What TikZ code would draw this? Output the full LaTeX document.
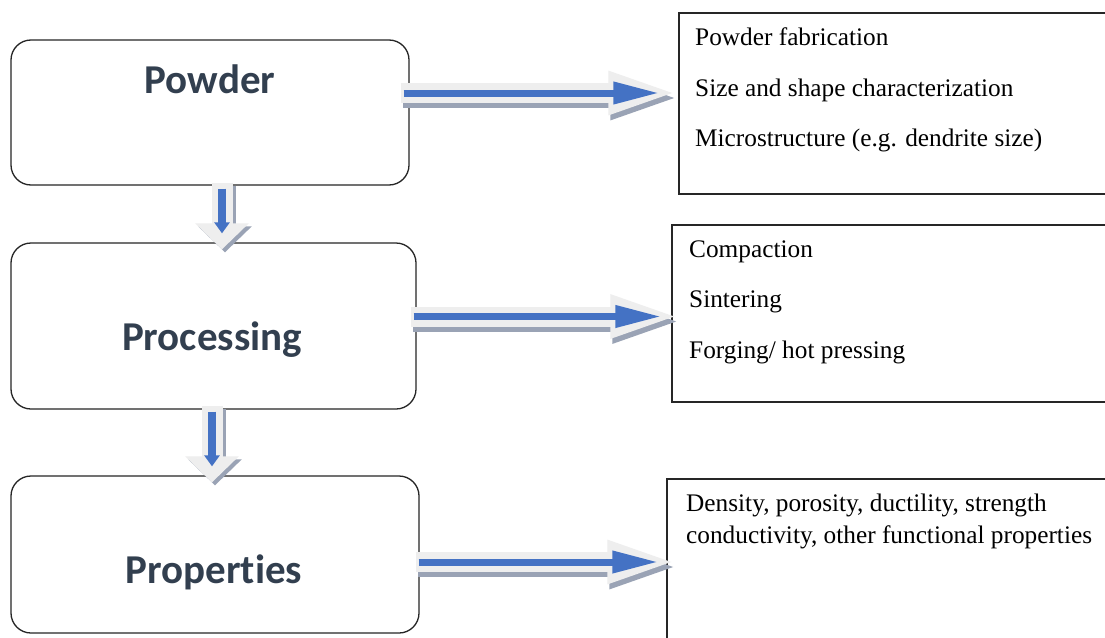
\documentclass[tikz,border=0pt]{standalone}
\usepackage{fontspec}
\setmainfont{Liberation Serif}
\newfontfamily\calfont[Ligatures={NoCommon,NoContextual}]{Carlito}
\usetikzlibrary{arrows.meta,calc}
\definecolor{lbl}{HTML}{323F4F}
\definecolor{arrblue}{HTML}{4472C4}
\definecolor{arrlight}{HTML}{EEEEEE}
\definecolor{arrshad}{HTML}{9AA3B5}
\begin{document}
\begin{tikzpicture}[x=1pt,y=-1pt,
  stage/.style={draw=black!85, line width=1.3pt, rounded corners=20pt, inner sep=0pt},
  info/.style={draw=black!85, line width=1.4pt, inner sep=0pt},
  stagelabel/.style={text=lbl, font=\calfont\bfseries\fontsize{41}{48}\selectfont, inner sep=0pt},
  infotext/.style={text=black, font=\fontsize{25.3}{32}\selectfont, inner sep=0pt, align=left},
  outerH/.style={draw=arrlight, line width=20pt, -{Triangle[length=72pt,width=38pt]}},
  shadH/.style={draw=arrshad, line width=20pt, -{Triangle[length=72pt,width=38pt]}},
  blueH/.style={draw=arrblue, line width=7pt, -{Triangle[length=46pt,width=21pt]}, shorten >=21pt, shorten <=3pt},
  outerV/.style={draw=arrlight, line width=21pt, -{Triangle[length=26pt,width=52pt]}},
  shadV/.style={draw=arrshad, line width=21pt, -{Triangle[length=26pt,width=52pt]}},
  blueV/.style={draw=arrblue, line width=8pt, -{Triangle[length=11pt,width=15pt]}, shorten >=16pt, shorten <=6pt}
]
\clip (0,0) rectangle (1105,637);
\fill[white] (0,0) rectangle (1105,637);

% left stage boxes
\node[stage, minimum width=398pt, minimum height=145pt] (powder) at (210,112.5) {};
\node[stage, minimum width=405pt, minimum height=166pt] (processing) at (213.5,326) {};
\node[stage, minimum width=408pt, minimum height=157pt] (properties) at (215,554.5) {};

\node[stagelabel, anchor=base] (tpowder) at (210,93) {Powder};
\node[stagelabel, anchor=base] (tprocessing) at (212,350) {Processing};
\node[stagelabel, anchor=base] (tproperties) at (214,583) {Properties};

% right info boxes
\node[info, minimum width=436pt, minimum height=181pt] (pfinfo) at (897,103.5) {};
\node[info, minimum width=443pt, minimum height=177pt] (procinfo) at (893.5,313.5) {};
\node[info, minimum width=448pt, minimum height=171pt] (propinfo) at (891,564.5) {};

\node[infotext, anchor=base west] (t1a) at (695,45) {Powder fabrication};
\node[infotext, anchor=base west] (t1b) at (695,96) {Size and shape characterization};
\node[infotext, anchor=base west] (t1c) at (695,146) {Microstructure (e.g. dendrite size)};

\node[infotext, anchor=base west] (t2a) at (689,257) {Compaction};
\node[infotext, anchor=base west] (t2b) at (689,307) {Sintering};
\node[infotext, anchor=base west] (t2c) at (689,358) {Forging/ hot pressing};

\node[infotext, anchor=base west] (t3a) at (686,511) {Density, porosity, ductility, strength};
\node[infotext, anchor=base west] (t3b) at (686,543) {conductivity, other functional properties};

% arrow end points
\coordinate (a1s) at ($(powder.east)+(-9,-19.5)$);
\coordinate (a1e) at ($(a1s -| pfinfo.west)+(2,0)$);
\coordinate (a2s) at ($(processing.east)+(-6,-9.5)$);
\coordinate (a2e) at ($(a2s -| procinfo.west)+(11,0)$);
\coordinate (a3s) at ($(properties.east)+(-4,7.5)$);
\coordinate (a3e) at ($(a3s -| propinfo.west)+(13,0)$);
\coordinate (d1s) at ($(powder.south)+(12,-3)$);
\coordinate (d1e) at ($(d1s |- processing.north)+(0,7)$);
\coordinate (d2s) at ($(processing.south)+(-1.5,-4)$);
\coordinate (d2e) at ($(d2s |- properties.north)+(0,7)$);

% horizontal arrows
\foreach \s/\e in {a1s/a1e, a2s/a2e, a3s/a3e} {
  \draw[shadH] ([shift={(2,5)}]\s) -- ([shift={(2,5)}]\e);
  \draw[outerH] (\s) -- (\e);
  \draw[blueH] (\s) -- (\e);
}
% vertical arrows
\foreach \s/\e in {d1s/d1e, d2s/d2e} {
  \draw[shadV] ([shift={(3,3)}]\s) -- ([shift={(3,3)}]\e);
  \draw[outerV] (\s) -- (\e);
  \draw[blueV] (\s) -- (\e);
}
\end{tikzpicture}
\end{document}
